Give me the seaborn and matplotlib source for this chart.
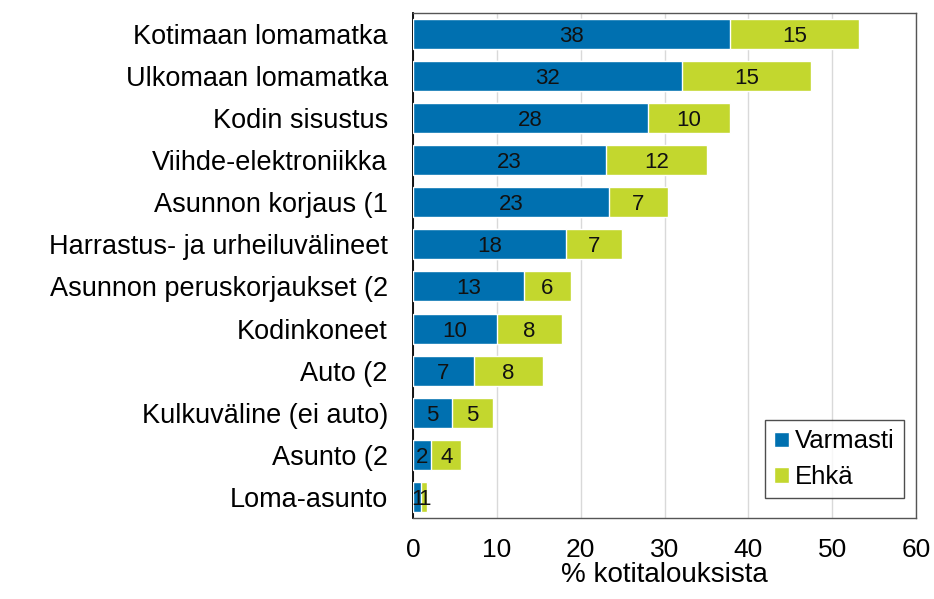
import pandas as pd
import matplotlib.pyplot as plt
import seaborn as sns

# data (% of households)
categories = ['Kotimaan lomamatka', 'Ulkomaan lomamatka', 'Kodin sisustus',
              'Viihde-elektroniikka', 'Asunnon korjaus (1',
              'Harrastus- ja urheiluvälineet', 'Asunnon peruskorjaukset (2',
              'Kodinkoneet', 'Auto (2', 'Kulkuväline (ei auto)', 'Asunto (2',
              'Loma-asunto']
varmasti = [37.8, 32.1, 28.0, 23.0, 23.4, 18.3, 13.2, 10.0, 7.3, 4.7, 2.2, 1.0]
ehka = [15.4, 15.4, 9.8, 12.1, 7.0, 6.6, 5.6, 7.8, 8.2, 4.8, 3.6, 0.7]

df = pd.DataFrame({'Kohde': categories, 'Varmasti': varmasti, 'Ehkä': ehka})
df['Yhteensä'] = df['Varmasti'] + df['Ehkä']

blue = '#0070b0'
green = '#c3d72e'

sns.set_style('white')
plt.rcParams['font.family'] = ['Liberation Sans', 'DejaVu Sans']
plt.rcParams['text.color'] = 'black'
plt.rcParams['xtick.color'] = 'black'
plt.rcParams['ytick.color'] = 'black'
plt.rcParams['axes.labelcolor'] = 'black'

fig = plt.figure(figsize=(9.34, 5.99), dpi=100)
ax = fig.add_axes([0.442, 0.135, 0.539, 0.844])

# stacked look: total bar in green, then the "Varmasti" part in blue on top
sns.barplot(data=df, y='Kohde', x='Yhteensä', color=green, width=0.71,
            saturation=1, ax=ax, label='Ehkä', zorder=2)
sns.barplot(data=df, y='Kohde', x='Varmasti', color=blue, width=0.71,
            saturation=1, ax=ax, label='Varmasti', zorder=3)

# value labels centred in each segment
for i, (v, e) in enumerate(zip(varmasti, ehka)):
    ax.text(v / 2, i, f'{v:.0f}', ha='center', va='center_baseline',
            fontsize=16, color='#111111', zorder=4)
    ax.text(v + e / 2, i, f'{e:.0f}', ha='center', va='center_baseline',
            fontsize=16, color='#111111', zorder=4)

ax.set_xlim(0, 60)
ax.set_xticks(range(0, 61, 10))
ax.set_ylim(11.5, -0.5)
ax.xaxis.grid(True, color='#d9d9d9', linewidth=1)
ax.set_axisbelow(True)
ax.set_ylabel('')
ax.set_xlabel('% kotitalouksista', fontsize=20, labelpad=0)
ax.tick_params(axis='y', length=0, pad=18, labelsize=19.5)
ax.tick_params(axis='x', length=0, pad=14, labelsize=19)

for side in ['top', 'right', 'bottom']:
    ax.spines[side].set_color('#555555')
    ax.spines[side].set_linewidth(1)
ax.spines['left'].set_color('black')
ax.spines['left'].set_linewidth(1.3)

handles, labels = ax.get_legend_handles_labels()
order = [labels.index('Varmasti'), labels.index('Ehkä')]
leg = ax.legend([handles[k] for k in order], [labels[k] for k in order],
                loc='lower right', bbox_to_anchor=(0.975, 0.04), fontsize=18.5,
                frameon=True, fancybox=False, handlelength=0.55, handleheight=0.55,
                handletextpad=0.25, borderpad=0.35, labelspacing=0.45,
                borderaxespad=0)
leg.get_frame().set_edgecolor('#222222')
leg.get_frame().set_linewidth(1)

fig.savefig('out.png', dpi=100)
